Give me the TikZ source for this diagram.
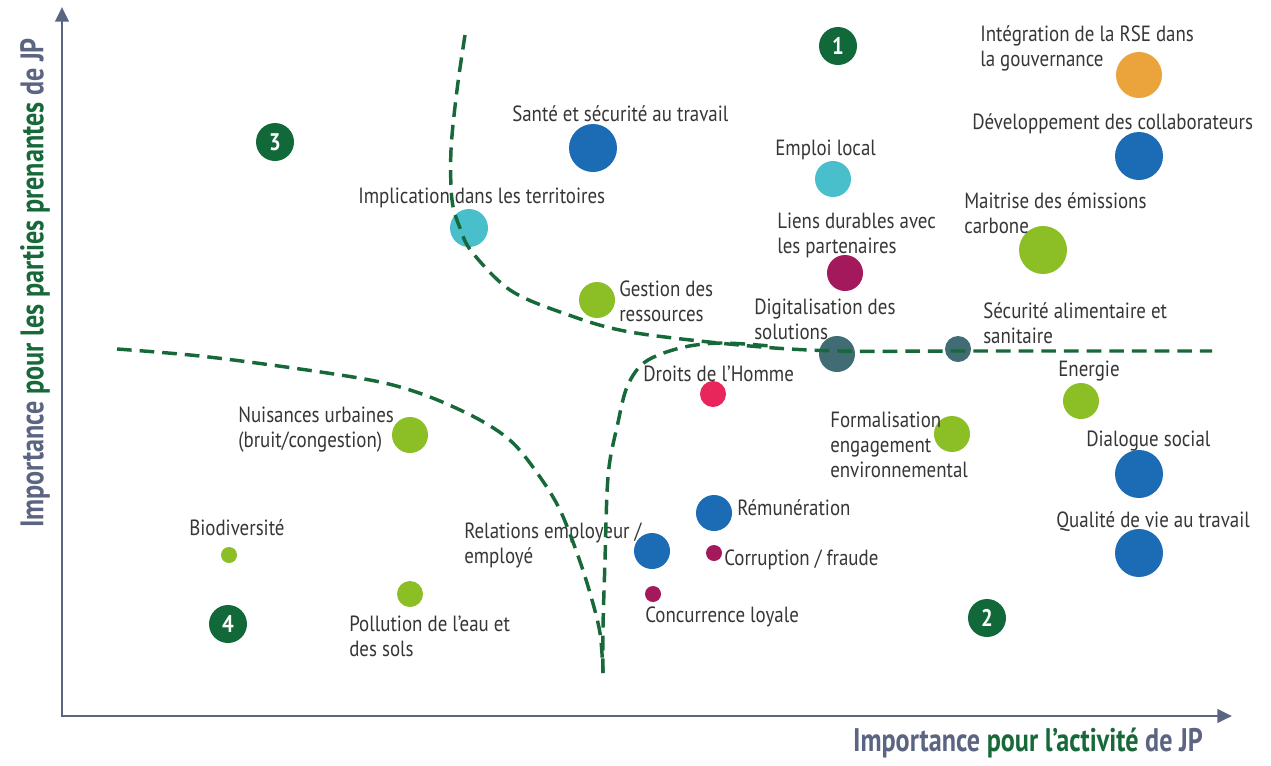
\documentclass[tikz,border=0pt]{standalone}
\usepackage{fontspec}
\setmainfont{PT Sans}[FakeStretch=0.86]
\newfontfamily\axfont{PT Sans}[FakeStretch=0.8]
\usetikzlibrary{arrows.meta}
\definecolor{txt}{HTML}{363636}
\definecolor{axiscol}{HTML}{5B6582}
\definecolor{sepgreen}{HTML}{17693A}
\definecolor{numgreen}{HTML}{11693A}
\definecolor{cblue}{HTML}{1B6BB5}
\definecolor{cgreen}{HTML}{8CBE26}
\definecolor{cteal}{HTML}{4ABFCC}
\definecolor{corange}{HTML}{EBA33C}
\definecolor{cpurple}{HTML}{A3195B}
\definecolor{cpink}{HTML}{E8265B}
\definecolor{cslate}{HTML}{416C74}
\begin{document}
\begin{tikzpicture}[x=0.75pt,y=-0.75pt,
  bub/.style 2 args={circle,fill=#2,minimum size=#1*1.5pt,inner sep=0pt},
  lab/.style={anchor=west,inner sep=0pt,align=left,text=txt,yshift=-1.5pt,font=\fontsize{16.5}{18.75}\selectfont},
  num/.style={circle,fill=numgreen,minimum size=28.5pt,inner sep=0pt,text=white,font=\bfseries\fontsize{18}{20}\selectfont},
  axis/.style={draw=axiscol,line width=2.2pt,{Triangle[length=11pt,width=10pt]}-{Triangle[length=11pt,width=10pt]}},
  sep/.style={draw=sepgreen,line width=2.6pt,dash pattern=on 11pt off 6pt},
  axlab/.style={inner sep=0pt,font=\axfont\bfseries\fontsize{24.5}{26}\selectfont}]
\useasboundingbox (0,0) rectangle (1271,765);

% axes
\coordinate (ytop) at (62,7);
\coordinate (O) at (62,716);
\coordinate (xend) at (1232,716);
\draw[axis] (ytop) -- (O) -- (xend);
\node[axlab] (xlab) at (1028,743) {\textcolor{axiscol}{Importance} \textcolor{sepgreen}{pour l’activité} \textcolor{axiscol}{de JP}};
\node[axlab,rotate=90] (ylab) at (35,283) {\textcolor{axiscol}{Importance} \textcolor{sepgreen}{pour les parties prenantes} \textcolor{axiscol}{de JP}};

% quadrant numbers
\node[num] (n1) at (838,46) {1};
\node[num] (n2) at (987,618) {2};
\node[num] (n3) at (275,142) {3};
\node[num] (n4) at (228,624) {4};

% bubbles
\node[bub={23}{corange}] (rse) at (1139,75) {};
\node[bub={24}{cblue}] (dev) at (1139,156) {};
\node[bub={24}{cgreen}] (carb) at (1043,250) {};
\node[bub={24}{cblue}] (sante) at (593,148) {};
\node[bub={18}{cteal}] (emploi) at (833,179) {};
\node[bub={18}{cpurple}] (liens) at (845,273) {};
\node[bub={19}{cteal}] (impl) at (469,228) {};
\node[bub={18}{cgreen}] (gest) at (597,300) {};
\node[bub={18}{cslate}] (digit) at (837,354) {};
\node[bub={13}{cslate}] (secu) at (958,349) {};
\node[bub={13}{cpink}] (droits) at (713,394) {};
\node[bub={18}{cgreen}] (energ) at (1081,401) {};
\node[bub={18}{cgreen}] (forma) at (952,434) {};
\node[bub={24}{cblue}] (dial) at (1139,474) {};
\node[bub={18}{cblue}] (remu) at (714,513) {};
\node[bub={8}{cpurple}] (corr) at (714,553) {};
\node[bub={18}{cblue}] (rel) at (652,551) {};
\node[bub={8}{cpurple}] (conc) at (653,594) {};
\node[bub={24}{cblue}] (qual) at (1139,553) {};
\node[bub={18}{cgreen}] (nuis) at (410,435) {};
\node[bub={8}{cgreen}] (bio) at (229,555) {};
\node[bub={13}{cgreen}] (poll) at (410,594) {};

% labels
\node[lab] (lrse) at (980,46.5) {Intégration de la RSE dans\\la gouvernance};
\node[lab] (ldev) at (972,122) {Développement des collaborateurs};
\node[lab] (lcarb) at (964,211.5) {Maitrise des émissions\\carbone};
\node[lab] (lsante) at (512,112) {Santé et sécurité au travail};
\node[lab] (lemploi) at (775,148) {Emploi local};
\node[lab] (lliens) at (777,233.5) {Liens durables avec\\les partenaires};
\node[lab] (limpl) at (358,196) {Implication dans les territoires};
\node[lab] (lgest) at (619,299.5) {Gestion des\\ressources};
\node[lab] (ldigit) at (754,317.5) {Digitalisation des\\solutions};
\node[lab] (lsecu) at (983,321) {Sécurité alimentaire et\\sanitaire};
\node[lab] (ldroits) at (643,372) {Droits de l’Homme};
\node[lab] (lenerg) at (1058,369) {Energie};
\node[lab] (lforma) at (830,443) {Formalisation\\engagement\\environnemental};
\node[lab] (ldial) at (1086,439) {Dialogue social};
\node[lab] (lremu) at (737,506) {Rémunération};
\node[lab] (lcorr) at (724,558) {Corruption / fraude};
\node[lab] (lrel) at (464,543) {Relations employeur /\\employé};
\node[lab] (lconc) at (645,615) {Concurrence loyale};
\node[lab] (lqual) at (1056,520) {Qualité de vie au travail};
\node[lab] (lnuis) at (238,428) {Nuisances urbaines\\(bruit/congestion)};
\node[lab] (lbio) at (189,526) {Biodiversité};
\node[lab] (lpoll) at (349,634.5) {Pollution de l’eau et\\des sols};

% separating curves
\draw[sep] plot[smooth,tension=0.55] coordinates {(465,35) (457,90) (451,150) (452,200) (460,228) (472,252) (510,290) (563,313) (630,332) (750,346) (840,351) (960,351) (1212,351)};
\draw[sep] plot[smooth,tension=0.55] coordinates {(117,349) (200,356) (300,369) (380,382) (430,397) (480,420) (513,443) (540,477) (560,510) (577,553) (590,593) (600,633) (603,673)};
\draw[sep] plot[smooth,tension=0.55] coordinates {(603,673) (603,627) (605,560) (607,493) (610,460) (617,427) (627,387) (645,362) (680,348) (720,343) (770,346)};
\end{tikzpicture}
\end{document}
